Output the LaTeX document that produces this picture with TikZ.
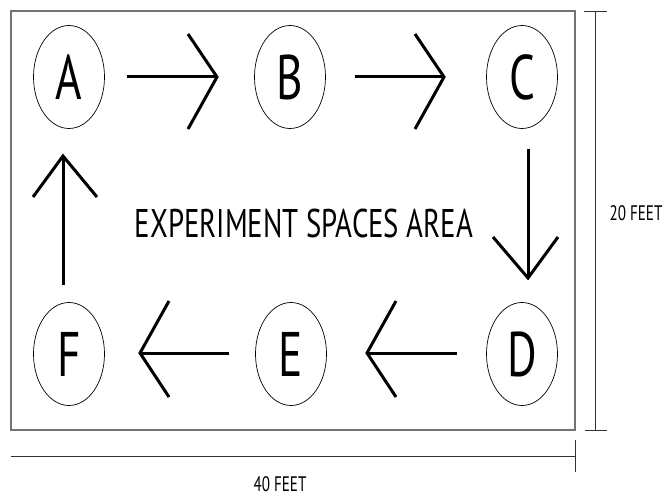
\documentclass[tikz,border=0pt]{standalone}
\usepackage{fontspec}
\usetikzlibrary{shapes.geometric}
\setmainfont{PT Sans}
\newfontfamily\narrowfont[FakeStretch=0.72]{PT Sans}
\begin{document}
\begin{tikzpicture}[x=1pt,y=-1pt,
  spot/.style={draw=black,line width=0.7pt,ellipse,minimum width=71pt,minimum height=103pt,inner sep=0pt,
     font=\narrowfont\fontsize{63}{63}\selectfont},
  flow/.style={line width=3pt,line cap=butt},
  head/.style={line width=3pt,line join=miter},
  dim/.style={line width=0.7pt,draw=black!80},
  dimtext/.style={font=\narrowfont\fontsize{21}{21}\selectfont,inner sep=0pt,anchor=base}]
\useasboundingbox (0,0) rectangle (664,497);
\draw[line width=1.2pt,draw=black!55] (11,11) rectangle (575,430);
\node[spot] (A) at (69,77) {A};
\node[spot] (B) at (290,77) {B};
\node[spot] (C) at (522,77) {C};
\node[spot] (D) at (522,354) {D};
\node[spot] (E) at (291,354) {E};
\node[spot] (F) at (69,354) {F};
% arrows
\coordinate (ab1) at (127,77); \coordinate (ab2) at (217,77);
\draw[flow] (ab1) -- (ab2);
\draw[head] (188,34) -- (ab2) -- (188,129);
\coordinate (bc1) at (355,77); \coordinate (bc2) at (444,77);
\draw[flow] (bc1) -- (bc2);
\draw[head] (415,34) -- (bc2) -- (415,129);
\coordinate (cd1) at (528,149); \coordinate (cd2) at (528,278);
\draw[flow] (cd1) -- (cd2);
\draw[head] (493,237) -- (cd2) -- (558,237);
\coordinate (de1) at (457,353); \coordinate (de2) at (367,353);
\draw[flow] (de1) -- (de2);
\draw[head] (396,301) -- (de2) -- (396,397);
\coordinate (ef1) at (229,353); \coordinate (ef2) at (140,353);
\draw[flow] (ef1) -- (ef2);
\draw[head] (169,301) -- (ef2) -- (169,397);
\coordinate (fa1) at (63,285); \coordinate (fa2) at (63,156);
\draw[flow] (fa1) -- (fa2);
\draw[head] (33,197) -- (fa2) -- (97,197);
\node[font=\narrowfont\fontsize{40}{40}\selectfont,inner sep=0pt] (title) at (304,223) {EXPERIMENT SPACES AREA};
% dimensions
\draw[dim] (584,11) -- (607,11);
\draw[dim] (585,430) -- (607,430);
\draw[dim] (595,11) -- (595,430);
\draw[dim] (11,456) -- (575,456);
\draw[dim] (575,440) -- (575,472);
\node[dimtext] (h) at (636,221) {20 FEET};
\node[dimtext] (w) at (280,491) {40 FEET};
\end{tikzpicture}
\end{document}
